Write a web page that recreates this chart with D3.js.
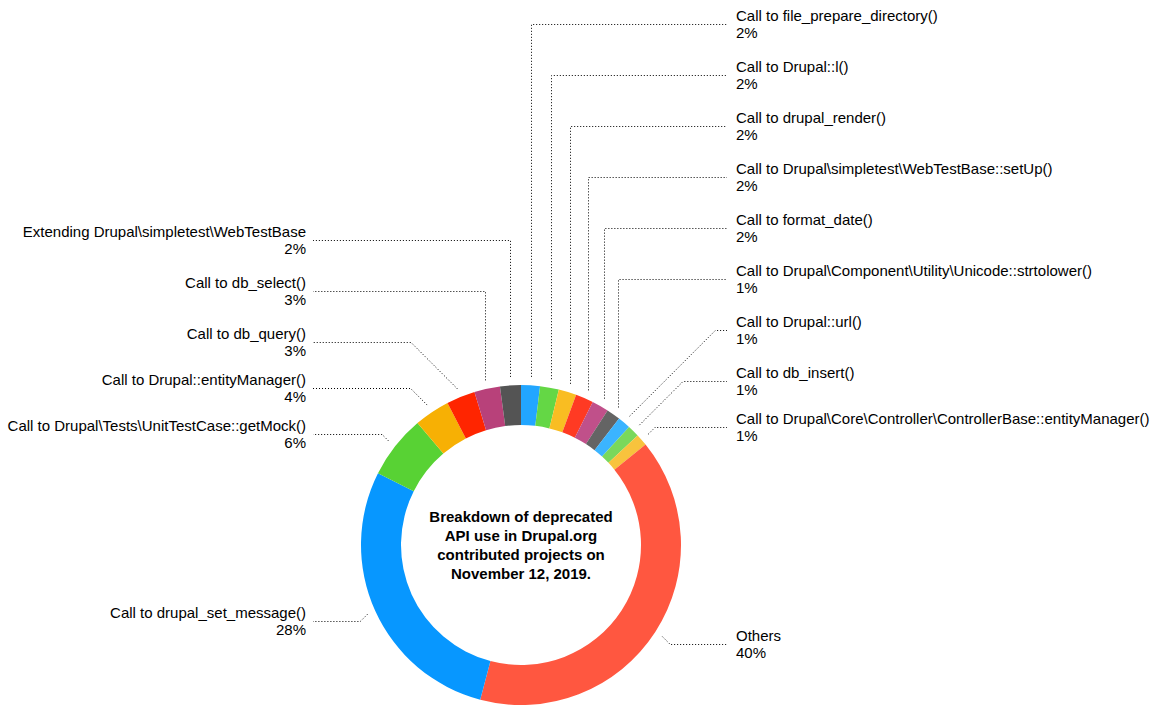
<!DOCTYPE html>
<html><head><meta charset="utf-8">
<script src="https://cdn.jsdelivr.net/npm/d3@7"></script>
<style>
body{margin:0;background:#fff}
svg{display:block;font-family:"Helvetica Neue",Helvetica,"Liberation Sans",Arial,sans-serif}
</style>
</head><body>
<svg id="chart" width="1160" height="710"></svg>
<script>
const categories = [
  "Call to file_prepare_directory()",
  "Call to Drupal::l()",
  "Call to drupal_render()",
  "Call to Drupal\\simpletest\\WebTestBase::setUp()",
  "Call to format_date()",
  "Call to Drupal\\Component\\Utility\\Unicode::strtolower()",
  "Call to Drupal::url()",
  "Call to db_insert()",
  "Call to Drupal\\Core\\Controller\\ControllerBase::entityManager()",
  "Others",
  "Call to drupal_set_message()",
  "Call to Drupal\\Tests\\UnitTestCase::getMock()",
  "Call to Drupal::entityManager()",
  "Call to db_query()",
  "Call to db_select()",
  "Extending Drupal\\simpletest\\WebTestBase"
];
const values = [1.9, 1.9, 1.8, 1.8, 1.7, 1.4, 1.3, 1.2, 1.2, 39.9, 28.3, 6.4, 3.6, 2.9, 2.6, 2.1];
const palette = ["#22a6ff","#64d745","#f9bd22","#ff3a23","#c0508a","#646464","#3bb4ff","#7ad85b","#f8c33d",
                 "#ff5740","#0797ff","#58d234","#f7b004","#ff2500","#b8417a","#545454"];
const titleLines = ["Breakdown of deprecated","API use in Drupal.org","contributed projects on","November 12, 2019."];

const cx = 521, cy = 545, outerR = 160, innerR = 120, leadR = 168.5, labelDX = 215;
const svg = d3.select("#chart");
const g = svg.append("g").attr("transform", `translate(${cx},${cy})`);

const data = categories.map((c, i) => ({name: c, value: values[i], color: palette[i]}));
const total = d3.sum(values);
const pie = d3.pie().sort(null).value(d => d.value);
const arcs = pie(data);
const arc = d3.arc().innerRadius(innerR).outerRadius(outerR);

g.selectAll("path.slice").data(arcs).join("path")
  .attr("class", "slice").attr("d", arc).attr("fill", d => d.data.color);

// label layout
const deg = Math.PI / 180;
const labels = arcs.map(a => {
  const mid = (a.startAngle + a.endAngle) / 2;
  const ex = leadR * Math.sin(mid), ey = -leadR * Math.cos(mid);
  const side = mid < Math.PI ? 1 : -1;
  const upper = ey < 0;
  const vertical = mid < 38 * deg || mid > 340 * deg;
  const ideal = ey + (upper ? -7 : 7);
  return {a, mid, ex, ey, side, upper, vertical, ideal, y: ideal};
});

[1, -1].forEach(side => {
  [true, false].forEach(upper => {
    const grp = labels.filter(l => l.side === side && l.upper === upper);
    grp.sort((p, q) => upper ? q.ideal - p.ideal : p.ideal - q.ideal);
    let prev = null;
    grp.forEach(l => {
      if (prev) {
        const gap = (l.vertical || prev.vertical) ? 51 : 46;
        if (upper) {
          l.y = Math.min(l.ideal, prev.y - gap);
          if (l.ideal - l.y > 50) l.y = Math.min(l.ideal, prev.y - 51);
        } else {
          l.y = Math.max(l.ideal, prev.y + gap);
          if (l.y - l.ideal > 50) l.y = Math.max(l.ideal, prev.y + 51);
        }
      }
      prev = l;
    });
  });
});

const lg = svg.append("g");
labels.forEach(l => {
  const lineY = Math.round(cy + l.y) + 0.5;
  const ex = cx + l.ex, ey = cy + l.ey;
  const endX = l.side > 0 ? cx + labelDX - 9 : cx - labelDX + 7;
  let d;
  if (l.vertical) {
    const vx = Math.round(ex) + 0.5;
    d = `M${vx},${ey}V${lineY}H${endX}`;
  } else {
    const dy = Math.abs(lineY - ey);
    d = `M${ex},${ey}L${ex + l.side * dy},${lineY}H${endX}`;
  }
  lg.append("path").attr("d", d).attr("fill", "none")
    .attr("stroke", "#000").attr("stroke-width", 1).attr("stroke-dasharray", "1,2");

  const tx = cx + l.side * labelDX;
  const anchor = l.side > 0 ? "start" : "end";
  const pct = Math.round(l.a.data.value / total * 100) + "%";
  lg.append("text").attr("x", tx).attr("y", lineY - 4).attr("text-anchor", anchor)
    .attr("font-size", 15).attr("fill", "#000").text(l.a.data.name);
  lg.append("text").attr("x", tx).attr("y", lineY + 13).attr("text-anchor", anchor)
    .attr("font-size", 15).attr("fill", "#000").text(pct);
});

// center title
const tg = svg.append("g");
tg.selectAll("text").data(titleLines).join("text")
  .attr("x", cx).attr("y", (d, i) => cy - 23 + i * 19)
  .attr("text-anchor", "middle").attr("font-size", 15).attr("font-weight", "bold")
  .attr("fill", "#000").text(d => d);
</script>
</body></html>
